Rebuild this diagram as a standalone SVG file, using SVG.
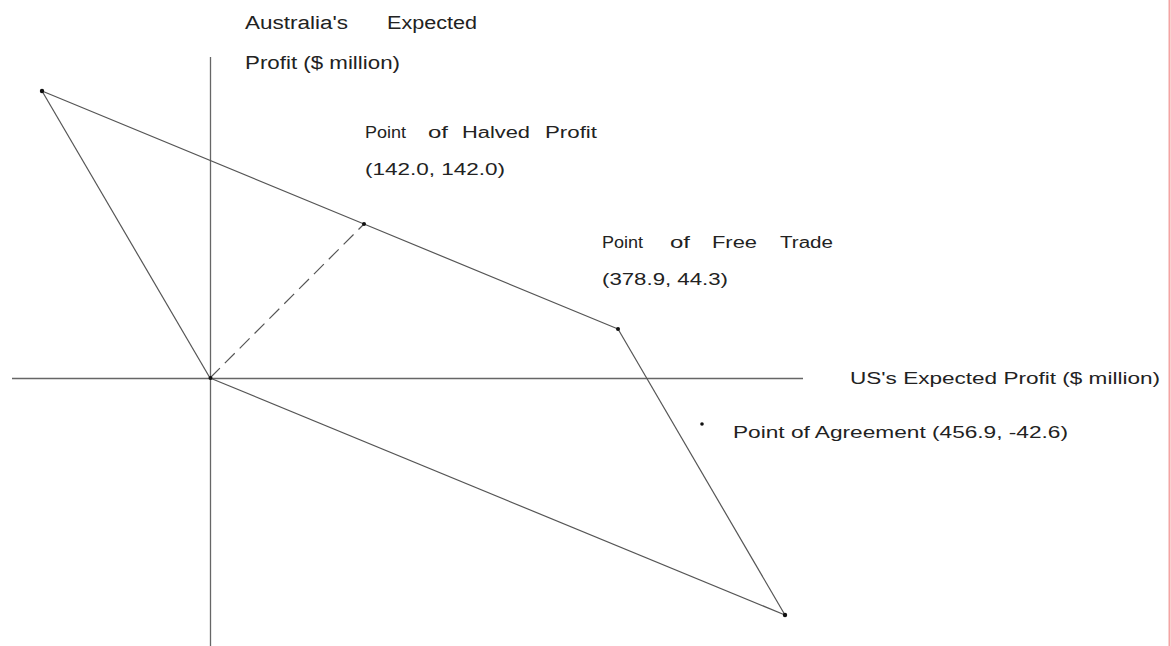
<svg xmlns="http://www.w3.org/2000/svg" width="1171" height="646" viewBox="0 0 1171 646">
<style>
text{font-family:"Liberation Sans",Arial,sans-serif;font-size:16px;fill:#222}
.big{font-size:18px}
.ax{stroke:#666;stroke-width:1.3;fill:none}
.ln{stroke:#555;stroke-width:1.2;fill:none}
.dash{stroke:#555;stroke-width:1.2;fill:none;stroke-dasharray:14 7}
.dot{fill:#111}
</style>
<rect width="1171" height="646" fill="#fff"/>
<line x1="1169.5" y1="0" x2="1169.5" y2="646" stroke="#f4a3a3" stroke-width="2"/>
<g id="axes">
<line class="ax" x1="210.5" y1="57" x2="210.5" y2="646"/>
<line class="ax" x1="12" y1="378.5" x2="803" y2="378.5"/>
</g>
<g id="connectors">
<polyline class="ln" points="42,91 364,224 618,329"/>
<line class="ln" x1="618" y1="329" x2="785" y2="615"/>
<line class="ln" x1="785" y1="615" x2="210" y2="378"/>
<line class="ln" x1="210" y1="378" x2="42" y2="91"/>
<line class="dash" x1="210" y1="378" x2="364" y2="224"/>
</g>
<g id="node-corner-nw"><circle class="dot" cx="42" cy="91" r="2.2"/></g>
<g id="node-origin"><circle class="dot" cx="210.5" cy="378" r="2"/></g>
<g id="node-corner-se"><circle class="dot" cx="785" cy="615" r="2.2"/></g>
<g id="node-halved">
<circle class="dot" cx="364" cy="224" r="2"/>
<text x="365" y="138" textLength="41" lengthAdjust="spacingAndGlyphs">Point</text>
<text x="428" y="138" textLength="20" lengthAdjust="spacingAndGlyphs">of</text>
<text x="462" y="138" textLength="68" lengthAdjust="spacingAndGlyphs">Halved</text>
<text x="545" y="138" textLength="52" lengthAdjust="spacingAndGlyphs">Profit</text>
<text x="365" y="175" textLength="140" lengthAdjust="spacingAndGlyphs">(142.0, 142.0)</text>
</g>
<g id="node-free-trade">
<circle class="dot" cx="618" cy="329" r="2"/>
<text x="602" y="248" textLength="41" lengthAdjust="spacingAndGlyphs">Point</text>
<text x="670" y="248" textLength="20" lengthAdjust="spacingAndGlyphs">of</text>
<text x="712" y="248" textLength="45" lengthAdjust="spacingAndGlyphs">Free</text>
<text x="780" y="248" textLength="53" lengthAdjust="spacingAndGlyphs">Trade</text>
<text x="602" y="285" textLength="126" lengthAdjust="spacingAndGlyphs">(378.9, 44.3)</text>
</g>
<g id="node-agreement">
<circle class="dot" cx="702" cy="424" r="1.8"/>
<text x="733" y="438" textLength="335" lengthAdjust="spacingAndGlyphs">Point of Agreement (456.9, -42.6)</text>
</g>
<g id="label-y-axis">
<text class="big" x="245" y="29" textLength="103" lengthAdjust="spacingAndGlyphs">Australia's</text>
<text class="big" x="387" y="29" textLength="90" lengthAdjust="spacingAndGlyphs">Expected</text>
<text class="big" x="245" y="69" textLength="155" lengthAdjust="spacingAndGlyphs">Profit ($ million)</text>
</g>
<g id="label-x-axis">
<text x="850" y="384" textLength="310" lengthAdjust="spacingAndGlyphs">US's Expected Profit ($ million)</text>
</g>
</svg>
